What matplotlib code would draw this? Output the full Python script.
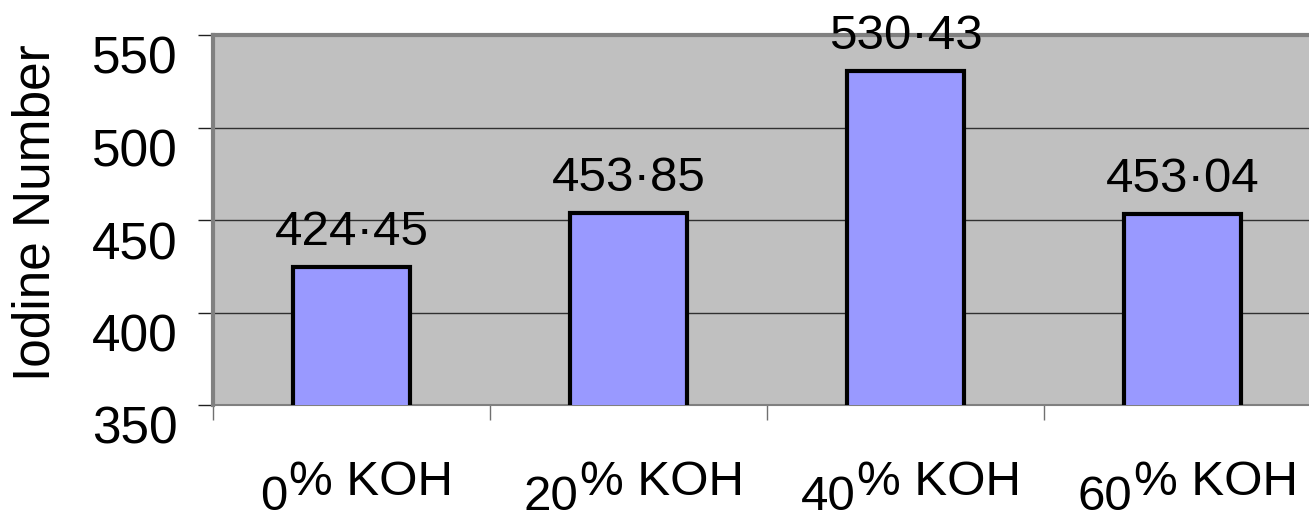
import matplotlib.pyplot as plt
import matplotlib.transforms as mtransforms

plt.rcParams['font.family'] = ['Liberation Sans', 'DejaVu Sans']

koh_pct = ['0', '20', '40', '60']
iodine = [424.45, 453.85, 530.43, 453.04]
value_labels = ['424·45', '453·85', '530·43', '453·04']
y_ticks = [350, 400, 450, 500, 550]

fig = plt.figure(figsize=(13.09, 5.18), dpi=100)
ax = fig.add_axes([213 / 1309, 1 - 405 / 518, 1108 / 1309, 370 / 518])
ax.set_facecolor('#C0C0C0')

x = list(range(len(iodine)))
ax.bar(x, iodine, width=0.42, color='#9999FF', edgecolor='black',
       linewidth=3, zorder=3)
ax.set_xlim(-0.5, len(iodine) - 0.5)
ax.set_ylim(350, 550)

# grid lines
ax.set_yticks(y_ticks)
ax.yaxis.grid(True, color='#303030', linewidth=1.0, zorder=1)
ax.set_axisbelow(True)

# spines
for side in ['top', 'left']:
    ax.spines[side].set_color('#808080')
    ax.spines[side].set_linewidth(3)
ax.spines['bottom'].set_color('#808080')
ax.spines['bottom'].set_linewidth(1.5)
ax.spines['right'].set_visible(False)

# y tick labels sit a bit below their grid lines
ax.tick_params(axis='y', direction='out', length=10.5, width=1.0, color='#202020',
               pad=15, labelsize=37)
shift = mtransforms.ScaledTranslation(0, -20 / 100, fig.dpi_scale_trans)
for lab in ax.get_yticklabels():
    lab.set_transform(lab.get_transform() + shift)

# x ticks at category boundaries, labels drawn by hand
ax.set_xticks([i - 0.5 for i in range(len(iodine) + 1)])
ax.set_xticklabels([])
ax.tick_params(axis='x', direction='out', length=11, width=1.0, color='#707070')

ax.set_ylabel('Iodine Number', fontsize=37)
ax.yaxis.set_label_coords(-0.138, 0.52)

# value labels above bars
for xi, v, s in zip(x, iodine, value_labels):
    ax.annotate(s, xy=(xi, v), xytext=(0, 16), textcoords='offset points',
                ha='center', va='baseline', fontsize=35.5, zorder=4,
                annotation_clip=False)

# category labels: number on a lower baseline, "% KOH" raised
base_y = 8 / 518
trans = mtransforms.blended_transform_factory(ax.transData, fig.transFigure)
pairs = []
for xi, p in zip(x, koh_pct):
    t1 = fig.text(0, 0, p, transform=trans, fontsize=35.5, ha='left', va='baseline')
    t1.set_position((xi, base_y))
    t2 = ax.annotate('% KOH', xy=(1, 0), xycoords=t1, xytext=(1, 10.5),
                     textcoords='offset points', ha='left', va='bottom',
                     fontsize=35.5, annotation_clip=False)
    pairs.append((xi, t1, t2))

fig.canvas.draw()
r = fig.canvas.get_renderer()
for xi, t1, t2 in pairs:
    b1 = t1.get_window_extent(r)
    b2 = t2.get_window_extent(r)
    width = b2.x1 - b1.x0
    cx = ax.transData.transform((xi, 0))[0] + 5
    left = cx - width / 2
    new_x = ax.transData.inverted().transform((left, 0))[0]
    t1.set_position((new_x, base_y))

fig.savefig('out.png', dpi=100)
